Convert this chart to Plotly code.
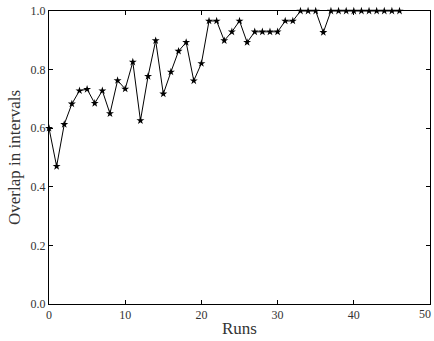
import plotly.graph_objects as go

runs = list(range(47))
overlap = [0.60, 0.47, 0.613, 0.683, 0.728, 0.733, 0.685, 0.728, 0.650, 0.763,
           0.734, 0.826, 0.626, 0.777, 0.899, 0.717, 0.792, 0.863, 0.893, 0.762,
           0.821, 0.966, 0.966, 0.899, 0.929, 0.966, 0.893, 0.929, 0.929, 0.929,
           0.929, 0.966, 0.966, 1.0, 1.0, 1.0, 0.927, 1.0, 1.0, 1.0,
           1.0, 1.0, 1.0, 1.0, 1.0, 1.0, 1.0]
xticks = [0, 10, 20, 30, 40, 50]
yticks = [0.0, 0.2, 0.4, 0.6, 0.8, 1.0]

fig = go.Figure(go.Scatter(
    x=runs, y=overlap, mode="lines+markers",
    line=dict(color="black", width=1),
    marker=dict(symbol="star", size=6, color="black"),
    cliponaxis=False,
))

font = "Liberation Serif, DejaVu Serif, serif"
tick_font = dict(family=font, size=12, color="#333")
axis_common = dict(
    showline=True, linecolor="black", linewidth=1, mirror="ticks",
    ticks="inside", ticklen=4, tickcolor="black", showgrid=False, zeroline=False,
    tickfont=tick_font,
)
fig.update_layout(
    width=434, height=341,
    margin=dict(l=49, r=4, t=11, b=37),
    plot_bgcolor="white", paper_bgcolor="white",
    showlegend=False,
    xaxis=dict(range=[0, 50], tickvals=xticks[:-1], ticktext=[str(v) for v in xticks[:-1]],
               title=dict(text="Runs", font=dict(family=font, size=17, color="#333"), standoff=0),
               **axis_common),
    yaxis=dict(range=[0, 1.0], tickvals=yticks, ticktext=[f"{v:.1f}" for v in yticks],
               title=dict(text="Overlap in intervals", font=dict(family=font, size=17, color="#333"), standoff=5),
               **axis_common),
)
# last x tick label sits at the page edge; keep it fully visible
fig.add_annotation(x=xticks[-1], y=0, xref="x", yref="paper", yanchor="top",
                   xanchor="right", xshift=3, yshift=-1, text=str(xticks[-1]),
                   showarrow=False, font=tick_font)
fig.write_html("out.html")
